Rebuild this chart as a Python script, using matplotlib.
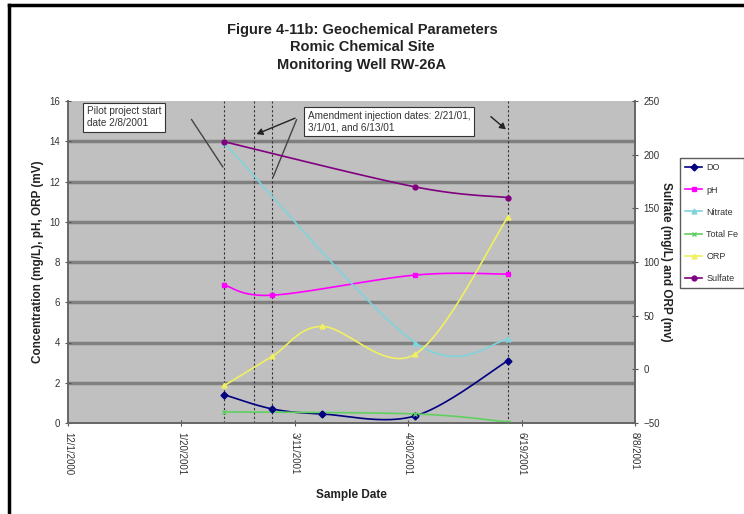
import datetime as dt
import numpy as np
import matplotlib
matplotlib.use("Agg")
from matplotlib import pyplot as plt
import matplotlib.dates as mdates
from matplotlib.lines import Line2D

plt.rcParams['font.family'] = ['Liberation Sans', 'DejaVu Sans']

# sample data (left axis: mg/L and pH, right axis: mg/L and mV)
do_dates = ["2001-02-08", "2001-03-01", "2001-03-23", "2001-05-03", "2001-06-13"]
do_vals = [1.4, 0.7, 0.45, 0.35, 3.1]
ph_dates = ["2001-02-08", "2001-03-01", "2001-05-03", "2001-06-13"]
ph_vals = [6.85, 6.35, 7.35, 7.4]
no3_dates = ["2001-02-08", "2001-05-03", "2001-06-13"]
no3_vals = [13.9, 4.0, 4.15]
fe_dates = ["2001-02-08", "2001-05-03", "2001-06-13"]
fe_vals = [0.55, 0.45, 0.05]
orp_dates = ["2001-02-08", "2001-03-01", "2001-03-23", "2001-05-03", "2001-06-13"]
orp_vals = [-15, 12, 40, 14, 142]
so4_dates = ["2001-02-08", "2001-05-03", "2001-06-13"]
so4_vals = [212, 170, 160]

event_dates = ["2001-02-08", "2001-02-21", "2001-03-01", "2001-06-13"]
tick_dates = ["2000-12-01", "2001-01-20", "2001-03-11", "2001-04-30", "2001-06-19", "2001-08-08"]


def to_num(days):
    return np.array([mdates.date2num(dt.datetime.fromisoformat(d)) for d in days])


def smooth(x, y, n=40):
    # bezier smoothing like a spreadsheet "smoothed line"
    x = np.asarray(x, float)
    y = np.asarray(y, float)
    px = np.concatenate([[x[0]], x, [x[-1]]])
    py = np.concatenate([[y[0]], y, [y[-1]]])
    xs, ys = [], []
    t = np.linspace(0, 1, n)
    for i in range(1, len(px) - 2):
        p0 = np.array([px[i], py[i]])
        p3 = np.array([px[i + 1], py[i + 1]])
        p1 = p0 + (np.array([px[i + 1], py[i + 1]]) - np.array([px[i - 1], py[i - 1]])) / 6
        p2 = p3 - (np.array([px[i + 2], py[i + 2]]) - np.array([px[i], py[i]])) / 6
        b = ((1 - t) ** 3)[:, None] * p0 + (3 * (1 - t) ** 2 * t)[:, None] * p1 \
            + (3 * (1 - t) * t ** 2)[:, None] * p2 + (t ** 3)[:, None] * p3
        xs.extend(b[:, 0])
        ys.extend(b[:, 1])
    return np.array(xs), np.array(ys)


fig = plt.figure(figsize=(7.44, 5.14), dpi=100)
ax = fig.add_axes([68 / 744, 1 - 423 / 514, 567 / 744, 322 / 514])
ax2 = ax.twinx()
ax.set_facecolor('#c0c0c0')

series = [
    (ax, do_dates, do_vals, '#000080', 'D', 'DO'),
    (ax, ph_dates, ph_vals, '#ff00ff', 's', 'pH'),
    (ax, no3_dates, no3_vals, '#7fd4dc', '^', 'Nitrate'),
    (ax, fe_dates, fe_vals, '#5fd05f', 'x', 'Total Fe'),
    (ax2, orp_dates, orp_vals, '#f0f060', '^', 'ORP'),
    (ax2, so4_dates, so4_vals, '#800080', 'o', 'Sulfate'),
]
handles = []
for a, d, v, c, m, name in series:
    xn = to_num(d)
    sx, sy = smooth(xn, v)
    a.plot(sx, sy, color=c, lw=1.2, zorder=3)
    a.plot(xn, v, ls='none', marker=m, color=c, ms=3.5, zorder=4)
    handles.append(Line2D([], [], color=c, marker=m, ms=3.5, lw=1.2, label=name))

# horizontal gridlines
for yv in range(2, 16, 2):
    ax.axhline(yv, color='#808080', lw=2.5, zorder=1)

for d in to_num(event_dates):
    ax.axvline(d, color='#333333', lw=0.8, ls=(0, (2, 2)), zorder=2)

xt = to_num(tick_dates)
ax.set_xlim(xt[0], xt[-1])
ax.set_xticks(xt)
labels = []
for d in tick_dates:
    dd = dt.date.fromisoformat(d)
    labels.append(f"{dd.month}/{dd.day}/{dd.year}")
ax.set_xticklabels(labels, rotation=-90, fontsize=7, color='#333333')

ax.set_ylim(0, 16)
ax.set_yticks(range(0, 17, 2))
ax.tick_params(axis='y', labelsize=7, labelcolor='#333333', length=4, direction='inout', color='#555555')
ax.tick_params(axis='x', length=5, direction='inout', color='#555555', pad=4)
ax2.set_ylim(-50, 250)
ax2.set_yticks(range(-50, 251, 50))
ax2.tick_params(axis='y', labelsize=7, labelcolor='#333333', length=5, direction='inout', color='#555555')

for a in (ax, ax2):
    a.spines['top'].set_visible(False)
    for s in ('left', 'right', 'bottom'):
        a.spines[s].set_color('#666666')
        a.spines[s].set_linewidth(1.2)

ax.set_ylabel("Concentration (mg/L), pH, ORP (mV)", fontsize=8.5, fontweight='bold', color='#222222', labelpad=4)
ax2.set_ylabel("Sulfate (mg/L) and ORP (mv)", fontsize=8.5, fontweight='bold', color='#222222', rotation=-90, labelpad=9)
ax.set_xlabel("Sample Date", fontsize=8.5, fontweight='bold', color='#222222', labelpad=10)

fig.text(362 / 744, 1 - 23 / 514,
         "Figure 4-11b: Geochemical Parameters\nRomic Chemical Site\nMonitoring Well RW-26A",
         ha='center', va='top', fontsize=10.5, fontweight='bold', color='#222222', linespacing=1.3)

# call-out boxes
box = dict(boxstyle='square,pad=0.35', fc='white', ec='#333333', lw=0.8)
ax.text(0.033, 0.983, "Pilot project start\ndate 2/8/2001", transform=ax.transAxes,
        ha='left', va='top', fontsize=7.2, color='#333333', bbox=box, zorder=6)
ax.annotate('', xy=(to_num(["2001-02-08"])[0], 12.6), xytext=(0.215, 0.95),
            textcoords='axes fraction', arrowprops=dict(arrowstyle='-', color='#444444', lw=1), zorder=6)
ax.text(0.423, 0.97, "Amendment injection dates: 2/21/01,\n3/1/01, and 6/13/01", transform=ax.transAxes,
        ha='left', va='top', fontsize=7.2, color='#333333', bbox=box, zorder=6)
head = dict(arrowstyle='-|>,head_length=0.35,head_width=0.2', color='#222222', lw=1)
ax.annotate('', xy=(to_num(["2001-02-21"])[0], 14.3), xytext=(0.405, 0.95),
            textcoords='axes fraction', arrowprops=head, zorder=6)
ax.annotate('', xy=(to_num(["2001-03-01"])[0], 12.1), xytext=(0.405, 0.95),
            textcoords='axes fraction', arrowprops=dict(arrowstyle='-', color='#444444', lw=1), zorder=6)
ax.annotate('', xy=(to_num(["2001-06-13"])[0], 14.5), xytext=(0.742, 0.957),
            textcoords='axes fraction', arrowprops=head, zorder=6)

fig.legend(handles=handles, loc='upper left', bbox_to_anchor=(680 / 744, 1 - 158 / 514),
           borderaxespad=0, fontsize=6.5, frameon=True, fancybox=False, edgecolor='#333333',
           labelspacing=1.45, handlelength=1.8, handletextpad=0.5, borderpad=0.6, labelcolor='#333333')

# outer frame lines
fig.add_artist(Line2D([9 / 744, 9 / 744], [0, 1 - 5 / 514], color='black', lw=2.5))
fig.add_artist(Line2D([9 / 744, 1], [1 - 5 / 514, 1 - 5 / 514], color='black', lw=2.5))

plt.savefig('out.png', dpi=100)
